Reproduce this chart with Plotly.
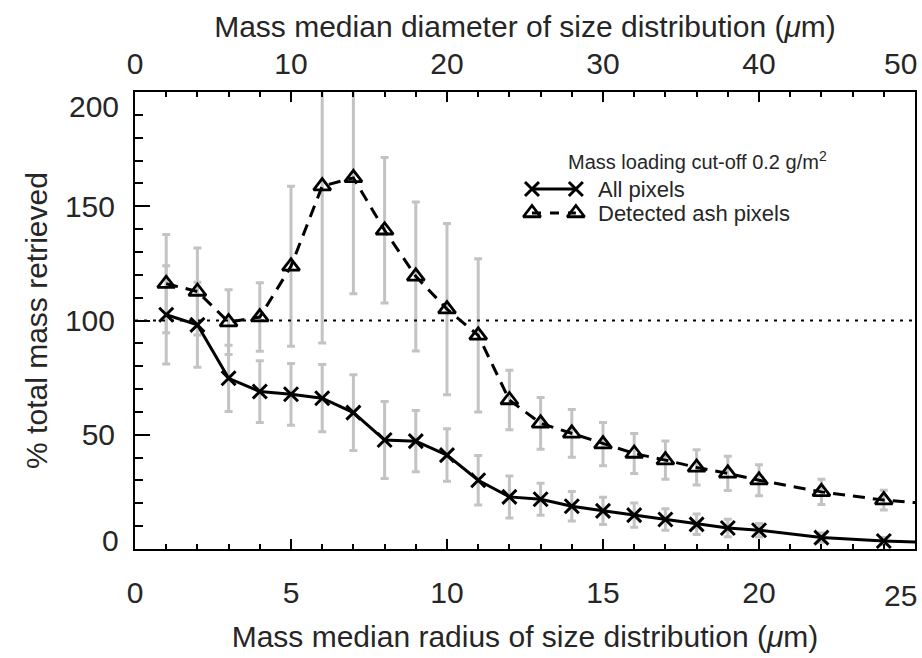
import plotly.graph_objects as go

# ---- data ----
radius = [1, 2, 3, 4, 5, 6, 7, 8, 9, 10, 11, 12, 13, 14, 15, 16, 17, 18, 19, 20, 22, 24, 26]
all_pixels = [102.5, 98.1, 74.7, 68.9, 67.7, 66.0, 59.7, 47.7, 47.2, 41.1, 30.1, 22.8, 21.8,
              18.7, 16.7, 14.8, 12.9, 10.8, 9.2, 8.2, 5.0, 3.5, 2.6]
all_err = [21.5, 18.6, 14.5, 13.5, 13.5, 14.7, 16.6, 16.8, 13.4, 11.5, 10.8, 9.2, 7.0,
           6.5, 6.0, 5.3, 4.7, 4.5, 3.8, 3.0, 2.0, 1.5, 1.2]
ash_pixels = [116.1, 112.7, 99.3, 101.5, 123.7, 158.8, 162.4, 139.5, 119.3, 105.0, 93.5, 65.2, 55.0,
              50.6, 45.9, 41.8, 38.9, 35.7, 33.1, 30.1, 25.0, 21.4, 19.2]
ash_err = [21.5, 19.0, 14.2, 15.0, 35.0, 68.7, 50.7, 31.8, 32.6, 37.5, 33.5, 13.0, 11.3,
           10.4, 9.5, 8.8, 8.4, 7.7, 7.5, 6.8, 5.5, 4.3, 4.0]

x_ticks = [0, 5, 10, 15, 20]
x_last = 25
top_ticks = [0, 10, 20, 30, 40]
top_last = 50
y_ticks = [50, 100, 150]
y_first, y_last = 0, 200

series_names = ["All pixels", "Detected ash pixels"]
legend_title = "Mass loading cut-off 0.2 g/m<sup>2</sup>"

FONT = "Liberation Sans, Arial, Helvetica, sans-serif"
TXT = "#262626"
GREY = "#c3c3c3"
FS = 30
DASH = "12px,8px"
TF = dict(family=FONT, size=FS, color=TXT)

fig = go.Figure()

# error bars (drawn first so they sit behind the lines)
for vals, errs in [(all_pixels, all_err), (ash_pixels, ash_err)]:
    fig.add_trace(go.Scatter(
        x=radius, y=vals, mode="markers",
        marker=dict(size=1, color="rgba(0,0,0,0)"),
        error_y=dict(type="data", array=errs, visible=True, color=GREY, thickness=3, width=4),
        showlegend=False, hoverinfo="skip"))

sty_all = dict(line=dict(color="black", width=3),
               marker=dict(symbol="x-thin", size=14, color="black", line=dict(color="black", width=3)))
sty_ash = dict(line=dict(color="black", width=3, dash=DASH),
               marker=dict(symbol="triangle-up-open", size=15, color="black",
                           line=dict(color="black", width=2.8)))

fig.add_trace(go.Scatter(x=radius, y=all_pixels, mode="lines+markers", name=series_names[0],
                         showlegend=False, **sty_all))
fig.add_trace(go.Scatter(x=radius, y=ash_pixels, mode="lines+markers", name=series_names[1],
                         showlegend=False, **sty_ash))

# invisible trace to activate the top axis
fig.add_trace(go.Scatter(x=[0, 50], y=[None, None], xaxis="x2", mode="lines",
                         showlegend=False, hoverinfo="skip"))

# ---- legend drawn on a hidden pixel-scaled overlay axis ----
LEG_X0, LEG_X1, LEG_TX = 533, 577, 597
LEG_ROWS = [189, 213]
LEG_TITLE = (567, 160)
fig.add_trace(go.Scatter(x=[LEG_X0, LEG_X1], y=[LEG_ROWS[0]] * 2, xaxis="x3", yaxis="y3",
                         mode="lines+markers", showlegend=False, hoverinfo="skip", **sty_all))
sty_ash_leg = dict(sty_ash)
sty_ash_leg["line"] = dict(color="black", width=3, dash="9px,9px")
fig.add_trace(go.Scatter(x=[LEG_X0, LEG_X1], y=[LEG_ROWS[1]] * 2, xaxis="x3", yaxis="y3",
                         mode="lines+markers", showlegend=False, hoverinfo="skip", **sty_ash_leg))
for name, yy in zip(series_names, LEG_ROWS):
    fig.add_annotation(text=name, xref="x3", yref="y3", x=LEG_TX, y=yy, xanchor="left",
                       yanchor="middle", showarrow=False,
                       font=dict(family=FONT, size=22, color=TXT))
fig.add_annotation(text=legend_title, xref="x3", yref="y3", x=LEG_TITLE[0], y=LEG_TITLE[1],
                   xanchor="left", yanchor="middle", showarrow=False,
                   font=dict(family=FONT, size=20, color=TXT))

fig.add_hline(y=100, line=dict(color="black", width=2, dash="3px,6px"))

tick_common = dict(ticks="inside", tickwidth=1.5, tickcolor="black", showline=True,
                   linecolor="black", linewidth=2, showgrid=False, zeroline=False,
                   tickfont=TF)

fig.update_layout(
    width=922, height=658,
    margin=dict(l=135, r=5, t=92, b=109),
    paper_bgcolor="white", plot_bgcolor="white",
    font=TF,
    showlegend=False,
    xaxis=dict(range=[0, 25], tickmode="array", tickvals=x_ticks, ticklen=10,
               minor=dict(dtick=1, ticks="inside", ticklen=5, tickwidth=1.5, tickcolor="black"),
               ticklabelstandoff=16,
               title=dict(text="Mass median radius of size distribution (<i>μ</i>m)",
                          font=TF, standoff=18), **tick_common),
    xaxis2=dict(range=[0, 50], overlaying="x", side="top", anchor="y",
                tickmode="array", tickvals=top_ticks, ticklen=10,
                minor=dict(dtick=2, ticks="inside", ticklen=5, tickwidth=1.5, tickcolor="black"),
                ticklabelstandoff=4,
                title=dict(text="Mass median diameter of size distribution (<i>μ</i>m)",
                           font=TF, standoff=1), **tick_common),
    yaxis=dict(range=[0, 200], tickmode="array", tickvals=y_ticks, ticklen=15, mirror=True,
               minor=dict(dtick=10, ticks="inside", ticklen=8, tickwidth=1.5, tickcolor="black"),
               ticklabelstandoff=12,
               title=dict(text="% total mass retrieved", font=TF, standoff=8),
               **tick_common),
    xaxis3=dict(range=[135, 917], overlaying="x", anchor="y3", visible=False, fixedrange=True),
    yaxis3=dict(range=[549, 92], overlaying="y", anchor="x3", visible=False, fixedrange=True),
)

# end-of-axis tick labels, pulled inside the frame as in the reference
fig.add_annotation(text=str(x_last), xref="x", yref="paper", x=x_last, y=0, yshift=-46,
                   xanchor="right", yanchor="middle", xshift=4, showarrow=False, font=TF)
fig.add_annotation(text=str(top_last), xref="x2", yref="paper", x=top_last, y=1, yshift=29,
                   xanchor="right", yanchor="middle", xshift=4, showarrow=False, font=TF)
fig.add_annotation(text=str(y_last), xref="paper", yref="y", x=0, y=y_last, xshift=-14,
                   yshift=-14, xanchor="right", yanchor="middle", showarrow=False, font=TF)
fig.add_annotation(text=str(y_first), xref="paper", yref="y", x=0, y=y_first, xshift=-14,
                   yshift=9, xanchor="right", yanchor="middle", showarrow=False, font=TF)

fig.write_html("out.html")
